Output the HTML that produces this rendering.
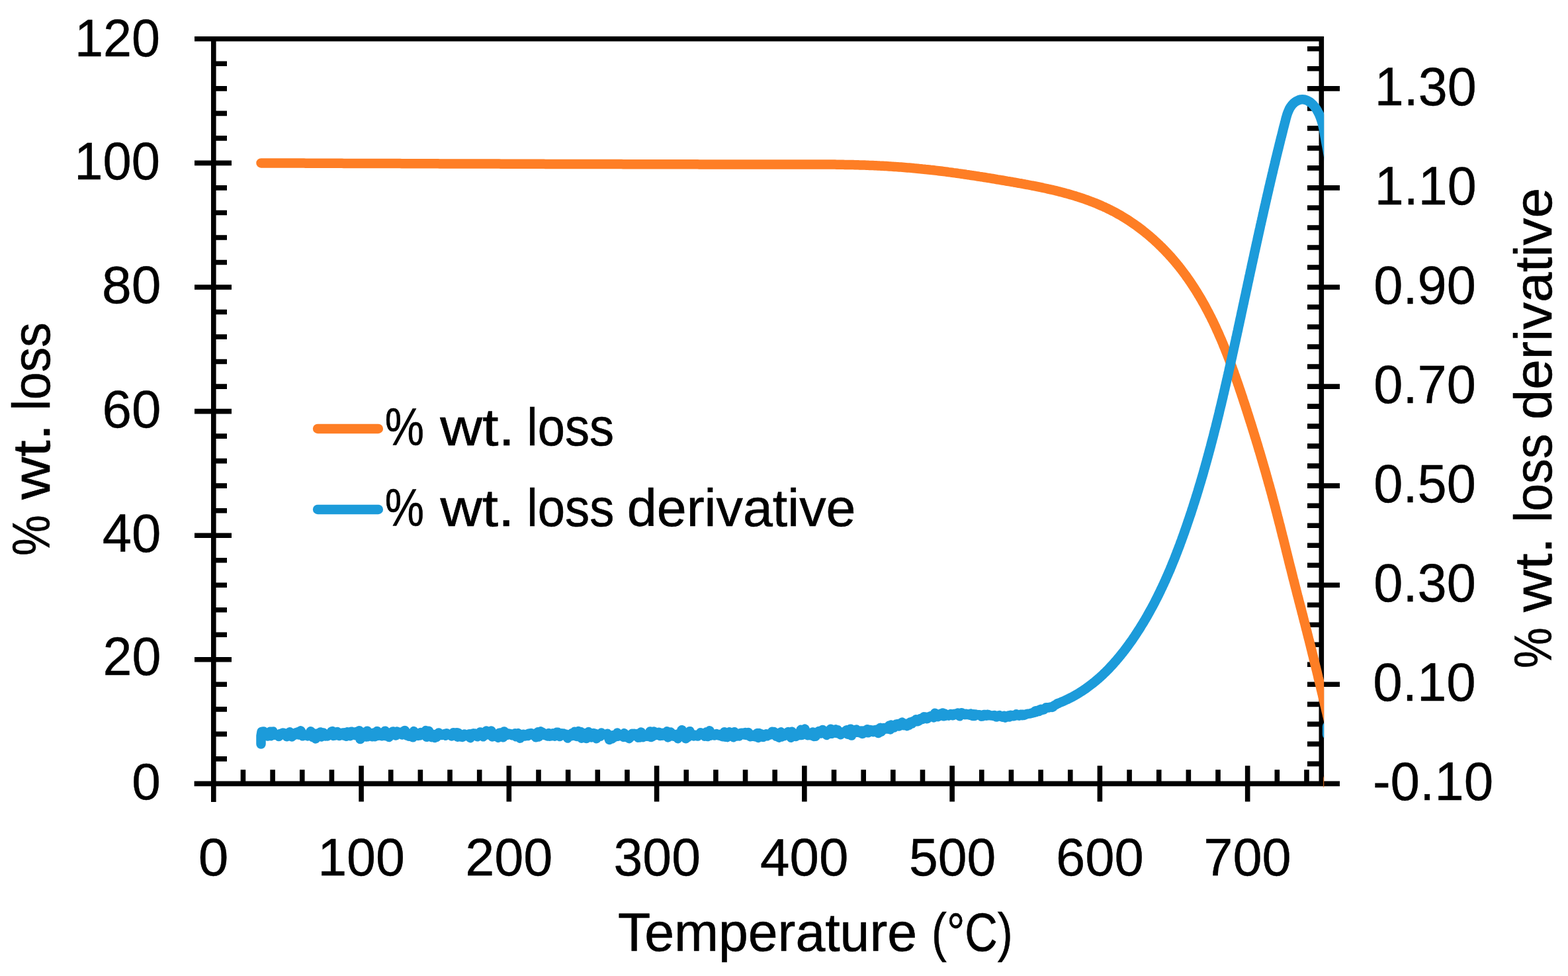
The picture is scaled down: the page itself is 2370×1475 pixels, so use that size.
<!DOCTYPE html>
<html><head><meta charset="utf-8"><title>TGA chart</title>
<style>html,body{margin:0;padding:0;background:#fff;}svg{display:block;}text{font-family:"Liberation Sans",Arial,sans-serif;}</style>
</head><body>
<svg width="2370" height="1475" viewBox="0 0 2370 1475">
<rect width="2370" height="1475" fill="#fff"/>
<path d="M294 58.8L2001.1 58.8M293.6 1184.4L2025 1184.4M322.8 55L322.8 1212M1997.3 55L1997.3 1188.2M294 1184.4L350 1184.4M322.8 1146.88L343 1146.88M322.8 1109.36L343 1109.36M322.8 1071.84L343 1071.84M322.8 1034.32L343 1034.32M294 996.8L350 996.8M322.8 959.28L343 959.28M322.8 921.76L343 921.76M322.8 884.24L343 884.24M322.8 846.72L343 846.72M294 809.2L350 809.2M322.8 771.68L343 771.68M322.8 734.16L343 734.16M322.8 696.64L343 696.64M322.8 659.12L343 659.12M294 621.6L350 621.6M322.8 584.08L343 584.08M322.8 546.56L343 546.56M322.8 509.04L343 509.04M322.8 471.52L343 471.52M294 434L350 434M322.8 396.48L343 396.48M322.8 358.96L343 358.96M322.8 321.44L343 321.44M322.8 283.92L343 283.92M294 246.4L350 246.4M322.8 208.88L343 208.88M322.8 171.36L343 171.36M322.8 133.84L343 133.84M322.8 96.32L343 96.32M294 58.8L350 58.8M1976 1184.4L2025 1184.4M1976 1154.38L1997.3 1154.38M1976 1124.37L1997.3 1124.37M1976 1094.35L1997.3 1094.35M1976 1064.34L1997.3 1064.34M1976 1034.32L2025 1034.32M1976 1004.3L1997.3 1004.3M1976 974.29L1997.3 974.29M1976 944.27L1997.3 944.27M1976 914.26L1997.3 914.26M1976 884.24L2025 884.24M1976 854.22L1997.3 854.22M1976 824.21L1997.3 824.21M1976 794.19L1997.3 794.19M1976 764.18L1997.3 764.18M1976 734.16L2025 734.16M1976 704.14L1997.3 704.14M1976 674.13L1997.3 674.13M1976 644.11L1997.3 644.11M1976 614.1L1997.3 614.1M1976 584.08L2025 584.08M1976 554.06L1997.3 554.06M1976 524.05L1997.3 524.05M1976 494.03L1997.3 494.03M1976 464.02L1997.3 464.02M1976 434L2025 434M1976 403.98L1997.3 403.98M1976 373.97L1997.3 373.97M1976 343.95L1997.3 343.95M1976 313.94L1997.3 313.94M1976 283.92L2025 283.92M1976 253.9L1997.3 253.9M1976 223.89L1997.3 223.89M1976 193.87L1997.3 193.87M1976 163.86L1997.3 163.86M1976 133.84L2025 133.84M1976 103.82L1997.3 103.82M1976 73.81L1997.3 73.81M322.8 1157.2L322.8 1211.6M367.45 1163.3L367.45 1184.4M412.11 1163.3L412.11 1184.4M456.76 1163.3L456.76 1184.4M501.41 1163.3L501.41 1184.4M546.07 1157.2L546.07 1211.6M590.72 1163.3L590.72 1184.4M635.37 1163.3L635.37 1184.4M680.03 1163.3L680.03 1184.4M724.68 1163.3L724.68 1184.4M769.33 1157.2L769.33 1211.6M813.99 1163.3L813.99 1184.4M858.64 1163.3L858.64 1184.4M903.29 1163.3L903.29 1184.4M947.95 1163.3L947.95 1184.4M992.6 1157.2L992.6 1211.6M1037.25 1163.3L1037.25 1184.4M1081.91 1163.3L1081.91 1184.4M1126.56 1163.3L1126.56 1184.4M1171.21 1163.3L1171.21 1184.4M1215.87 1157.2L1215.87 1211.6M1260.52 1163.3L1260.52 1184.4M1305.17 1163.3L1305.17 1184.4M1349.83 1163.3L1349.83 1184.4M1394.48 1163.3L1394.48 1184.4M1439.13 1157.2L1439.13 1211.6M1483.79 1163.3L1483.79 1184.4M1528.44 1163.3L1528.44 1184.4M1573.09 1163.3L1573.09 1184.4M1617.75 1163.3L1617.75 1184.4M1662.4 1157.2L1662.4 1211.6M1707.05 1163.3L1707.05 1184.4M1751.71 1163.3L1751.71 1184.4M1796.36 1163.3L1796.36 1184.4M1841.01 1163.3L1841.01 1184.4M1885.67 1157.2L1885.67 1211.6M1930.32 1163.3L1930.32 1184.4M1974.97 1163.3L1974.97 1184.4" stroke="#000" stroke-width="7.6" fill="none"/>
<clipPath id="pc"><rect x="280" y="40" width="1721.2" height="1150"/></clipPath>
<g clip-path="url(#pc)" fill="none" stroke-linecap="round" stroke-linejoin="round" stroke-width="14.5">
<path d="M394.5 246.4L397.0 246.4L399.5 246.4L402.0 246.5L404.5 246.5L407.0 246.5L409.5 246.5L412.0 246.5L414.5 246.5L417.0 246.5L419.5 246.5L422.0 246.5L424.5 246.5L427.0 246.5L429.5 246.5L432.0 246.6L434.5 246.6L437.0 246.6L439.5 246.6L442.0 246.6L444.5 246.6L447.0 246.6L449.5 246.6L452.0 246.6L454.5 246.6L457.0 246.6L459.5 246.6L462.0 246.7L464.5 246.7L467.0 246.7L469.5 246.7L472.0 246.7L474.5 246.7L477.0 246.7L479.5 246.7L482.0 246.7L484.5 246.7L487.0 246.7L489.5 246.7L492.0 246.8L494.5 246.8L497.0 246.8L499.5 246.8L502.0 246.8L504.5 246.8L507.0 246.8L509.5 246.8L512.0 246.8L514.5 246.8L517.0 246.8L519.5 246.9L522.0 246.9L524.5 246.9L527.0 246.9L529.5 246.9L532.0 246.9L534.5 246.9L537.0 246.9L539.5 246.9L542.0 246.9L544.5 246.9L547.0 246.9L549.5 247.0L552.0 247.0L554.5 247.0L557.0 247.0L559.5 247.0L562.0 247.0L564.5 247.0L567.0 247.0L569.5 247.0L572.0 247.0L574.5 247.0L577.0 247.1L579.5 247.1L582.0 247.1L584.5 247.1L587.0 247.1L589.5 247.1L592.0 247.1L594.5 247.1L597.0 247.1L599.5 247.1L602.0 247.1L604.5 247.1L607.0 247.2L609.5 247.2L612.0 247.2L614.5 247.2L617.0 247.2L619.5 247.2L622.0 247.2L624.5 247.2L627.0 247.2L629.5 247.2L632.0 247.2L634.5 247.3L637.0 247.3L639.5 247.3L642.0 247.3L644.5 247.3L647.0 247.3L649.5 247.3L652.0 247.3L654.5 247.3L657.0 247.3L659.5 247.3L662.0 247.3L664.5 247.4L667.0 247.4L669.5 247.4L672.0 247.4L674.5 247.4L677.0 247.4L679.5 247.4L682.0 247.4L684.5 247.4L687.0 247.4L689.5 247.4L692.0 247.4L694.5 247.5L697.0 247.5L699.5 247.5L702.0 247.5L704.5 247.5L707.0 247.5L709.5 247.5L712.0 247.5L714.5 247.5L717.0 247.5L719.5 247.5L722.0 247.5L724.5 247.6L727.0 247.6L729.5 247.6L732.0 247.6L734.5 247.6L737.0 247.6L739.5 247.6L742.0 247.6L744.5 247.6L747.0 247.6L749.5 247.6L752.0 247.6L754.5 247.6L757.0 247.7L759.5 247.7L762.0 247.7L764.5 247.7L767.0 247.7L769.5 247.7L772.0 247.7L774.5 247.7L777.0 247.7L779.5 247.7L782.0 247.7L784.5 247.7L787.0 247.7L789.4 247.8L791.9 247.8L794.4 247.8L796.9 247.8L799.4 247.8L801.9 247.8L804.4 247.8L806.9 247.8L809.4 247.8L811.9 247.8L814.4 247.8L816.9 247.8L819.4 247.8L821.9 247.8L824.4 247.9L826.9 247.9L829.4 247.9L831.9 247.9L834.4 247.9L836.9 247.9L839.4 247.9L841.9 247.9L844.4 247.9L846.9 247.9L849.4 247.9L851.9 247.9L854.4 247.9L856.9 247.9L859.4 248.0L861.9 248.0L864.4 248.0L866.9 248.0L869.4 248.0L871.9 248.0L874.4 248.0L876.9 248.0L879.4 248.0L881.9 248.0L884.4 248.0L886.9 248.0L889.4 248.0L891.9 248.0L894.4 248.0L896.9 248.0L899.4 248.1L901.9 248.1L904.4 248.1L906.9 248.1L909.4 248.1L911.9 248.1L914.4 248.1L916.9 248.1L919.4 248.1L921.9 248.1L924.4 248.1L926.9 248.1L929.4 248.1L931.9 248.1L934.4 248.1L936.9 248.1L939.4 248.1L941.9 248.2L944.4 248.2L946.9 248.2L949.4 248.2L951.9 248.2L954.4 248.2L956.9 248.2L959.4 248.2L961.9 248.2L964.4 248.2L966.9 248.2L969.4 248.2L971.9 248.2L974.4 248.2L976.9 248.2L979.4 248.2L981.9 248.2L984.4 248.2L986.9 248.2L989.4 248.2L991.9 248.3L994.4 248.3L996.9 248.3L999.4 248.3L1001.9 248.3L1004.4 248.3L1006.9 248.3L1009.4 248.3L1011.9 248.3L1014.4 248.3L1016.9 248.3L1019.4 248.3L1021.9 248.3L1024.4 248.3L1026.9 248.3L1029.4 248.3L1031.9 248.3L1034.4 248.3L1036.9 248.3L1039.4 248.3L1041.9 248.3L1044.4 248.3L1046.9 248.3L1049.4 248.3L1051.9 248.3L1054.4 248.3L1056.9 248.4L1059.4 248.4L1061.9 248.4L1064.4 248.4L1066.9 248.4L1069.4 248.4L1071.9 248.4L1074.4 248.4L1076.9 248.4L1079.4 248.4L1081.9 248.4L1084.4 248.4L1086.9 248.4L1089.4 248.4L1091.9 248.4L1094.4 248.4L1096.9 248.4L1099.4 248.4L1101.9 248.4L1104.4 248.4L1106.9 248.4L1109.4 248.4L1111.9 248.4L1114.4 248.4L1116.9 248.4L1119.4 248.4L1121.9 248.4L1124.4 248.4L1126.9 248.4L1129.4 248.4L1131.9 248.4L1134.4 248.4L1136.9 248.4L1139.4 248.4L1141.9 248.4L1144.4 248.4L1146.9 248.4L1149.4 248.4L1151.9 248.4L1154.4 248.4L1156.9 248.4L1159.4 248.4L1161.9 248.4L1164.4 248.4L1166.9 248.4L1169.4 248.4L1171.9 248.4L1174.4 248.4L1176.9 248.4L1179.4 248.4L1181.9 248.4L1184.4 248.4L1186.9 248.4L1189.4 248.4L1191.9 248.4L1194.4 248.4L1196.9 248.4L1199.4 248.4L1201.9 248.4L1204.4 248.4L1206.9 248.4L1209.4 248.4L1211.9 248.4L1214.4 248.4L1216.9 248.4L1219.4 248.4L1221.9 248.4L1224.5 248.4L1227.0 248.4L1229.5 248.5L1232.0 248.5L1234.5 248.5L1237.0 248.5L1239.5 248.5L1242.0 248.5L1244.5 248.5L1247.0 248.5L1249.5 248.5L1252.0 248.6L1254.5 248.6L1257.0 248.6L1259.5 248.6L1262.0 248.6L1264.5 248.7L1267.0 248.7L1269.5 248.7L1272.0 248.8L1274.5 248.8L1277.0 248.9L1279.5 248.9L1282.0 249.0L1284.5 249.0L1287.0 249.1L1289.5 249.1L1292.0 249.2L1294.5 249.2L1297.0 249.3L1299.5 249.4L1302.0 249.5L1304.5 249.5L1307.0 249.6L1309.5 249.7L1311.9 249.8L1314.4 249.9L1316.9 250.0L1319.4 250.1L1321.9 250.2L1324.4 250.3L1326.9 250.4L1329.4 250.6L1331.9 250.7L1334.4 250.8L1336.9 251.0L1339.4 251.1L1341.9 251.2L1344.4 251.4L1346.9 251.6L1349.4 251.7L1351.9 251.9L1354.4 252.1L1356.8 252.2L1359.3 252.4L1361.8 252.6L1364.3 252.8L1366.8 253.0L1369.3 253.2L1371.8 253.4L1374.3 253.6L1376.8 253.8L1379.2 254.0L1381.7 254.3L1384.2 254.5L1386.7 254.7L1389.2 255.0L1391.7 255.2L1394.1 255.5L1396.6 255.7L1399.1 256.0L1401.6 256.2L1404.1 256.5L1406.5 256.8L1409.0 257.0L1411.5 257.3L1414.0 257.6L1416.4 257.9L1418.9 258.2L1421.4 258.5L1423.9 258.8L1426.3 259.1L1428.8 259.4L1431.3 259.7L1433.7 260.1L1436.2 260.4L1438.7 260.7L1441.1 261.1L1443.6 261.4L1446.1 261.7L1448.5 262.1L1451.0 262.4L1453.5 262.8L1455.9 263.1L1458.4 263.5L1460.9 263.9L1463.3 264.2L1465.8 264.6L1468.3 265.0L1470.7 265.3L1473.2 265.7L1475.7 266.1L1478.2 266.5L1480.6 266.9L1483.1 267.2L1485.6 267.6L1488.0 268.0L1490.5 268.4L1493.0 268.8L1495.4 269.2L1497.9 269.6L1500.4 270.0L1502.8 270.4L1505.3 270.8L1507.8 271.3L1510.3 271.7L1512.7 272.1L1515.2 272.5L1517.7 272.9L1520.1 273.3L1522.6 273.8L1525.1 274.2L1527.6 274.6L1530.1 275.0L1532.5 275.5L1535.0 275.9L1537.5 276.3L1540.0 276.8L1542.4 277.2L1544.9 277.7L1547.4 278.1L1549.9 278.6L1552.3 279.0L1554.8 279.5L1557.3 280.0L1559.8 280.5L1562.2 280.9L1564.7 281.4L1567.2 281.9L1569.6 282.4L1572.1 282.9L1574.6 283.4L1577.0 284.0L1579.5 284.5L1581.9 285.0L1584.4 285.6L1586.8 286.1L1589.3 286.7L1591.7 287.2L1594.1 287.8L1596.6 288.4L1599.0 289.0L1601.4 289.6L1603.9 290.2L1606.3 290.9L1608.7 291.5L1611.1 292.2L1613.5 292.8L1615.9 293.5L1618.3 294.2L1620.7 294.9L1623.1 295.6L1625.5 296.3L1627.8 297.1L1630.2 297.8L1632.6 298.6L1634.9 299.4L1637.3 300.2L1639.6 301.0L1642.0 301.8L1644.3 302.7L1646.6 303.5L1648.9 304.4L1651.3 305.3L1653.6 306.2L1655.9 307.1L1658.1 308.0L1660.4 309.0L1662.7 310.0L1665.0 311.0L1667.2 312.0L1669.5 313.0L1671.7 314.0L1674.0 315.1L1676.2 316.2L1678.4 317.3L1680.6 318.4L1682.8 319.5L1685.0 320.7L1687.2 321.9L1689.3 323.1L1691.5 324.3L1693.7 325.6L1695.8 326.8L1697.9 328.1L1700.0 329.4L1702.2 330.7L1704.3 332.0L1706.4 333.4L1708.4 334.8L1710.5 336.2L1712.6 337.6L1714.6 339.0L1716.6 340.4L1718.7 341.9L1720.7 343.4L1722.7 344.9L1724.7 346.4L1726.7 347.9L1728.6 349.5L1730.6 351.0L1732.5 352.6L1734.5 354.2L1736.4 355.8L1738.3 357.4L1740.2 359.1L1742.1 360.7L1744.0 362.4L1745.8 364.1L1747.7 365.8L1749.5 367.5L1751.3 369.2L1753.1 371.0L1754.9 372.7L1756.7 374.5L1758.5 376.3L1760.2 378.1L1762.0 379.9L1763.7 381.7L1765.4 383.5L1767.1 385.4L1768.8 387.3L1770.5 389.1L1772.1 391.0L1773.8 392.9L1775.4 394.8L1777.0 396.7L1778.6 398.7L1780.2 400.6L1781.8 402.5L1783.3 404.5L1784.9 406.5L1786.4 408.5L1787.9 410.5L1789.4 412.5L1790.9 414.5L1792.4 416.5L1793.8 418.5L1795.3 420.6L1796.7 422.6L1798.1 424.7L1799.5 426.7L1800.9 428.8L1802.3 430.9L1803.7 433.0L1805.0 435.1L1806.4 437.2L1807.7 439.3L1809.0 441.4L1810.3 443.5L1811.6 445.7L1812.9 447.8L1814.2 450.0L1815.5 452.1L1816.7 454.3L1817.9 456.5L1819.2 458.6L1820.4 460.8L1821.6 463.0L1822.8 465.2L1823.9 467.4L1825.1 469.6L1826.3 471.8L1827.4 474.0L1828.5 476.2L1829.7 478.4L1830.8 480.7L1831.9 482.9L1833.0 485.1L1834.1 487.4L1835.1 489.6L1836.2 491.9L1837.3 494.1L1838.3 496.4L1839.3 498.7L1840.4 500.9L1841.4 503.2L1842.4 505.5L1843.4 507.8L1844.4 510.1L1845.4 512.4L1846.4 514.6L1847.3 516.9L1848.3 519.2L1849.2 521.5L1850.2 523.9L1851.1 526.2L1852.1 528.5L1853.0 530.8L1853.9 533.1L1854.8 535.4L1855.7 537.8L1856.6 540.1L1857.5 542.4L1858.4 544.8L1859.3 547.1L1860.2 549.4L1861.0 551.8L1861.9 554.1L1862.7 556.5L1863.6 558.8L1864.5 561.2L1865.3 563.5L1866.1 565.9L1867.0 568.2L1867.8 570.6L1868.6 573.0L1869.4 575.3L1870.3 577.7L1871.1 580.1L1871.9 582.4L1872.7 584.8L1873.5 587.2L1874.3 589.5L1875.1 591.9L1875.9 594.3L1876.7 596.7L1877.5 599.0L1878.3 601.4L1879.0 603.8L1879.8 606.2L1880.6 608.5L1881.4 610.9L1882.2 613.3L1882.9 615.7L1883.7 618.0L1884.5 620.4L1885.2 622.8L1886.0 625.2L1886.8 627.6L1887.5 630.0L1888.3 632.3L1889.0 634.7L1889.8 637.1L1890.6 639.5L1891.3 641.9L1892.1 644.3L1892.8 646.6L1893.5 649.0L1894.3 651.4L1895.0 653.8L1895.8 656.2L1896.5 658.6L1897.2 661.0L1898.0 663.4L1898.7 665.7L1899.4 668.1L1900.2 670.5L1900.9 672.9L1901.6 675.3L1902.3 677.7L1903.0 680.1L1903.8 682.5L1904.5 684.9L1905.2 687.3L1905.9 689.7L1906.6 692.1L1907.3 694.5L1908.0 696.9L1908.7 699.3L1909.4 701.7L1910.1 704.1L1910.8 706.5L1911.5 708.9L1912.2 711.3L1912.9 713.7L1913.6 716.1L1914.2 718.5L1914.9 720.9L1915.6 723.3L1916.3 725.7L1916.9 728.1L1917.6 730.5L1918.3 732.9L1919.0 735.3L1919.6 737.7L1920.3 740.1L1921.0 742.5L1921.6 744.9L1922.3 747.3L1922.9 749.7L1923.6 752.2L1924.2 754.6L1924.9 757.0L1925.5 759.4L1926.2 761.8L1926.8 764.2L1927.5 766.6L1928.1 769.0L1928.7 771.5L1929.4 773.9L1930.0 776.3L1930.6 778.7L1931.2 781.1L1931.9 783.5L1932.5 786.0L1933.1 788.4L1933.7 790.8L1934.4 793.2L1935.0 795.6L1935.6 798.1L1936.2 800.5L1936.8 802.9L1937.4 805.3L1938.0 807.8L1938.6 810.2L1939.3 812.6L1939.9 815.0L1940.5 817.4L1941.1 819.9L1941.7 822.3L1942.3 824.7L1942.9 827.1L1943.5 829.6L1944.1 832.0L1944.7 834.4L1945.3 836.8L1945.9 839.3L1946.5 841.7L1947.1 844.1L1947.7 846.5L1948.3 849.0L1948.9 851.4L1949.5 853.8L1950.1 856.2L1950.8 858.7L1951.4 861.1L1952.0 863.5L1952.6 865.9L1953.2 868.3L1953.8 870.8L1954.4 873.2L1955.0 875.6L1955.7 878.0L1956.3 880.5L1956.9 882.9L1957.5 885.3L1958.1 887.7L1958.8 890.1L1959.4 892.6L1960.0 895.0L1960.6 897.4L1961.2 899.8L1961.9 902.2L1962.5 904.6L1963.1 907.1L1963.7 909.5L1964.4 911.9L1965.0 914.3L1965.6 916.7L1966.3 919.2L1966.9 921.6L1967.5 924.0L1968.1 926.4L1968.8 928.8L1969.4 931.3L1970.0 933.7L1970.6 936.1L1971.2 938.5L1971.9 940.9L1972.5 943.4L1973.1 945.8L1973.7 948.2L1974.3 950.6L1975.0 953.0L1975.6 955.5L1976.2 957.9L1976.8 960.3L1977.4 962.7L1978.0 965.1L1978.7 967.6L1979.3 970.0L1979.9 972.4L1980.5 974.8L1981.1 977.3L1981.7 979.7L1982.3 982.1L1982.9 984.5L1983.5 987.0L1984.1 989.4L1984.7 991.8L1985.3 994.2L1985.9 996.7L1986.5 999.1L1987.1 1001.5L1987.7 1003.9L1988.3 1006.4L1988.9 1008.8L1989.5 1011.2L1990.1 1013.6L1990.7 1016.1L1991.3 1018.5L1991.9 1020.9L1992.4 1023.4L1993.0 1025.8L1993.6 1028.2L1994.2 1030.6L1994.8 1033.1L1995.4 1035.5L1996.0 1037.9L1996.5 1040.4L1997.1 1042.8L1997.7 1045.2L1998.3 1047.7L1998.9 1050.1L1999.4 1052.5L2000.0 1055.0L2000.6 1057.4L2001.2 1059.8L2001.8 1062.3L2002.3 1064.7L2002.9 1067.1L2003.5 1069.5L2004.1 1072.0L2004.6 1074.4L2005.2 1076.8L2005.8 1079.3L2006.3 1081.7L2006.9 1084.1L2007.5 1086.6L2008.1 1089.0L2008.6 1091.5L2009.2 1093.9L2009.8 1096.3L2010.3 1098.8L2010.9 1101.2L2011.5 1103.6L2012.0 1106.1L2012.6 1108.5L2013.1 1110.9L2013.7 1113.4L2014.3 1115.8L2014.8 1118.2L2015.4 1120.7L2016.0 1123.1L2016.5 1125.5L2017.1 1128.0L2017.6 1130.4L2018.2 1132.9L2018.8 1135.3L2019.3 1137.7L2019.9 1140.2L2020.4 1142.6L2021.0 1145.0L2021.5 1147.5L2022.1 1149.9L2022.6 1152.4L2023.2 1154.8L2023.8 1157.2L2024.3 1159.7L2024.9 1162.1L2025.4 1164.5L2026.0 1167.0L2026.5 1169.4L2027.1 1171.9L2027.6 1174.3L2028.2 1176.7L2028.7 1179.2L2029.3 1181.6L2029.8 1184.0" stroke="#FE7E25"/>
<path d="M394.5 1124.5L394.5 1112L395.5 1106L398.5 1105.5L399 1109.36L400.5 1111.27L402 1107.67L403.5 1109.45L405 1112.58L406.5 1110.6L408 1105.81L409.5 1112.11L411 1105.74L412.5 1105.61L414 1110.73L415.5 1109.85L417 1110.73L418.5 1110.94L420 1111.34L421.5 1112.94L423 1109.08L424.5 1109.67L426 1108.82L427.5 1107.54L429 1107.91L430.5 1110.54L432 1110.04L433.5 1113.19L435 1109.65L436.5 1107.87L438 1106.25L439.5 1111.98L441 1113.5L442.5 1110.81L444 1111.44L445.5 1108.36L447 1107.47L448.5 1108.56L450 1106.24L451.5 1110.48L453 1105.13L454.5 1104.37L456 1107.07L457.5 1112.31L459 1110.48L460.5 1110.95L462 1111.15L463.5 1111.22L465 1112.24L466.5 1111.17L468 1111.95L469.5 1105.31L471 1106.56L472.5 1113.86L474 1110.64L475.5 1111.45L477 1116.43L478.5 1108.78L480 1109.27L481.5 1110.99L483 1107.5L484.5 1106.41L486 1113.41L487.5 1108.67L489 1107.54L490.5 1111.56L492 1112.47L493.5 1109.53L495 1112.37L496.5 1111.72L498 1109.05L499.5 1109.15L501 1105.63L502.5 1105.1L504 1111.93L505.5 1111.68L507 1109.23L508.5 1111.04L510 1105.95L511.5 1110.26L513 1112L514.5 1109.03L516 1109.84L517.5 1107.63L519 1111.43L520.5 1107.23L522 1110.25L523.5 1112.79L525 1106.38L526.5 1106.83L528 1109.88L529.5 1112.23L531 1105.65L532.5 1109.88L534 1108.08L535.5 1109.97L537 1111.13L538.5 1105.95L540 1110.7L541.5 1110.24L543 1104.17L544.5 1117.07L546 1112.83L547.5 1111.53L549 1109.66L550.5 1106.81L552 1107.43L553.5 1113.55L555 1104.72L556.5 1113.16L558 1110.64L559.5 1110.66L561 1112.47L562.5 1113.35L564 1107.77L565.5 1112.17L567 1113.18L568.5 1108.96L570 1104.98L571.5 1111.66L573 1109.58L574.5 1111.68L576 1109.45L577.5 1112.2L579 1107.91L580.5 1111.79L582 1104.68L583.5 1112.25L585 1109.1L586.5 1109.5L588 1114.05L589.5 1109.68L591 1109.07L592.5 1106.41L594 1105.44L595.5 1108.06L597 1109.57L598.5 1111.56L600 1105.64L601.5 1107.94L603 1107.28L604.5 1107.61L606 1106.58L607.5 1110.44L609 1107.92L610.5 1104.67L612 1104.02L613.5 1107.33L615 1111.46L616.5 1111.38L618 1112.84L619.5 1111.15L621 1111.75L622.5 1112.78L624 1114.37L625.5 1105.13L627 1107.21L628.5 1111.26L630 1110.94L631.5 1111.8L633 1110.28L634.5 1111.62L636 1107.02L637.5 1108.67L639 1107.44L640.5 1107.48L642 1111.18L643.5 1104.09L645 1113.81L646.5 1110.68L648 1104.75L649.5 1112.2L651 1112.94L652.5 1114.15L654 1110.36L655.5 1110.1L657 1114.95L658.5 1112.25L660 1113.92L661.5 1112.14L663 1107.49L664.5 1110.33L666 1109.54L667.5 1111L669 1110.84L670.5 1110.64L672 1108.9L673.5 1111.69L675 1108.16L676.5 1109.73L678 1109.73L679.5 1110.18L681 1110.8L682.5 1112.38L684 1110.87L685.5 1107.35L687 1107.44L688.5 1111.62L690 1107.18L691.5 1113.73L693 1107.88L694.5 1111.1L696 1113.51L697.5 1111.58L699 1113.95L700.5 1112.25L702 1109.46L703.5 1111.66L705 1111.33L706.5 1112.12L708 1112.95L709.5 1109.32L711 1115.12L712.5 1112.06L714 1108.82L715.5 1108.31L717 1110.46L718.5 1108.62L720 1108.82L721.5 1113.26L723 1110.79L724.5 1108.76L726 1106.43L727.5 1107.51L729 1109.2L730.5 1113.33L732 1109.29L733.5 1107.03L735 1104.48L736.5 1109.78L738 1110.15L739.5 1109.56L741 1108.47L742.5 1104.49L744 1113.43L745.5 1110.93L747 1109.24L748.5 1110.26L750 1110.09L751.5 1111.98L753 1114.9L754.5 1107.84L756 1109.97L757.5 1107.22L759 1110.46L760.5 1114.24L762 1105.39L763.5 1111.27L765 1109.9L766.5 1110.84L768 1108.27L769.5 1108.78L771 1109.14L772.5 1109.19L774 1111.24L775.5 1109.93L777 1109.6L778.5 1108.15L780 1113.29L781.5 1110.01L783 1108.11L784.5 1110.51L786 1115.66L787.5 1109.9L789 1111.07L790.5 1109.77L792 1110.01L793.5 1112.55L795 1109.97L796.5 1111.41L798 1111.99L799.5 1108.46L801 1109.16L802.5 1107.91L804 1109.33L805.5 1111.13L807 1108.92L808.5 1112.4L810 1114.35L811.5 1110.57L813 1106.38L814.5 1113.49L816 1110.46L817.5 1105.39L819 1108.43L820.5 1107.28L822 1108.3L823.5 1111.16L825 1109.77L826.5 1110.59L828 1112.59L829.5 1108.1L831 1112.69L832.5 1109.31L834 1112.32L835.5 1108.25L837 1111.6L838.5 1112.65L840 1110.12L841.5 1106.76L843 1106.7L844.5 1110.79L846 1113.03L847.5 1111.75L849 1108.26L850.5 1111.08L852 1108.64L853.5 1109.88L855 1109.43L856.5 1112.62L858 1115.47L859.5 1111.09L861 1110.96L862.5 1112.39L864 1108.37L865.5 1109.42L867 1111.71L868.5 1105.79L870 1107.8L871.5 1112.9L873 1113.09L874.5 1105.02L876 1110.92L877.5 1106.04L879 1115.71L880.5 1113.11L882 1107.88L883.5 1111.11L885 1114.43L886.5 1116.03L888 1109.12L889.5 1105.98L891 1110.62L892.5 1110.48L894 1114.47L895.5 1111.55L897 1107.99L898.5 1110.16L900 1108.78L901.5 1116.15L903 1110.69L904.5 1110.55L906 1110.28L907.5 1112.82L909 1107.58L910.5 1110.18L912 1110.2L913.5 1110.03L915 1110.1L916.5 1109.9L918 1108.73L919.5 1112.86L921 1117.96L922.5 1112.66L924 1112.59L925.5 1116.26L927 1110.98L928.5 1112.53L930 1113.58L931.5 1109.92L933 1107.59L934.5 1112.65L936 1109.46L937.5 1111.9L939 1111.66L940.5 1111.12L942 1113.87L943.5 1108.14L945 1110.09L946.5 1112.27L948 1114.49L949.5 1111.61L951 1116.13L952.5 1112.22L954 1113.31L955.5 1108.79L957 1111.17L958.5 1108.79L960 1110.47L961.5 1109.35L963 1109.13L964.5 1114.61L966 1111L967.5 1114.47L969 1106.58L970.5 1111.99L972 1114.13L973.5 1112.3L975 1111.72L976.5 1110.78L978 1112.85L979.5 1110.02L981 1113.04L982.5 1105.46L984 1114.06L985.5 1113.42L987 1112.31L988.5 1105.58L990 1110.6L991.5 1110.93L993 1110.41L994.5 1109.57L996 1106.66L997.5 1111.96L999 1109.74L1000.5 1111.81L1002 1107.76L1003.5 1111.23L1005 1111.62L1006.5 1111.45L1008 1105.34L1009.5 1114.39L1011 1112.7L1012.5 1112.88L1014 1106.63L1015.5 1109.77L1017 1110.25L1018.5 1112.74L1020 1110.61L1021.5 1113.46L1023 1109.71L1024.5 1116.12L1026 1110.74L1027.5 1112.63L1029 1113L1030.5 1103.22L1032 1111.35L1033.5 1110.36L1035 1113.21L1036.5 1116.21L1038 1107.22L1039.5 1114.3L1041 1111.74L1042.5 1105.18L1044 1109.4L1045.5 1109.47L1047 1111.21L1048.5 1112.49L1050 1110.76L1051.5 1111L1053 1111.49L1054.5 1112.61L1056 1109.75L1057.5 1110.34L1059 1107.21L1060.5 1109.49L1062 1109.73L1063.5 1108.16L1065 1112.65L1066.5 1109.94L1068 1106.24L1069.5 1113.06L1071 1111.86L1072.5 1104.27L1074 1111.63L1075.5 1108.22L1077 1110.74L1078.5 1110.88L1080 1111.42L1081.5 1109.91L1083 1109.07L1084.5 1110.41L1086 1111.5L1087.5 1109.87L1089 1112.01L1090.5 1110.02L1092 1113.18L1093.5 1109.88L1095 1106.17L1096.5 1113.79L1098 1112.6L1099.5 1113.95L1101 1112.89L1102.5 1106.33L1104 1107.73L1105.5 1111.93L1107 1110.2L1108.5 1114.12L1110 1106.2L1111.5 1108.46L1113 1112.54L1114.5 1112.3L1116 1109.1L1117.5 1112.43L1119 1108.48L1120.5 1107.65L1122 1107.79L1123.5 1107.92L1125 1110.39L1126.5 1107.13L1128 1110.85L1129.5 1110.62L1131 1107L1132.5 1110.83L1134 1113.28L1135.5 1111.73L1137 1112.49L1138.5 1110.67L1140 1112.89L1141.5 1113.36L1143 1110.27L1144.5 1108.09L1146 1114.93L1147.5 1108.05L1149 1110.36L1150.5 1109.12L1152 1112.37L1153.5 1113.94L1155 1111.27L1156.5 1111.74L1158 1109.16L1159.5 1112.34L1161 1109.97L1162.5 1110.69L1164 1110.52L1165.5 1108.36L1167 1105.78L1168.5 1108.57L1170 1106.13L1171.5 1108.09L1173 1112.71L1174.5 1109.01L1176 1108.44L1177.5 1114.62L1179 1109.35L1180.5 1106.39L1182 1113.47L1183.5 1110.42L1185 1112.32L1186.5 1108.66L1188 1109.6L1189.5 1108.92L1191 1106.14L1192.5 1110.07L1194 1109.31L1195.5 1114.67L1197 1105.66L1198.5 1108.23L1200 1110.24L1201.5 1110.38L1203 1113.05L1204.5 1108.93L1206 1109.78L1207.5 1109L1209 1110.88L1210.5 1102.88L1212 1110.96L1213.5 1106.2L1215 1105.37L1216.5 1101.63L1218 1106.66L1219.5 1109.17L1221 1111.26L1222.5 1108.32L1224 1109.1L1225.5 1111.24L1227 1108.56L1228.5 1106.49L1230 1112.88L1231.5 1109.41L1233 1112.62L1234.5 1107.96L1236 1107.58L1237.5 1104.95L1239 1107.73L1240.5 1108.31L1242 1105.94L1243.5 1102.99L1245 1104.97L1246.5 1106.57L1248 1107.08L1249.5 1110.95L1251 1107.66L1252.5 1107.01L1254 1107.04L1255.5 1101.73L1257 1108.82L1258.5 1105.63L1260 1104.5L1261.5 1104.27L1263 1102.34L1264.5 1107.91L1266 1103.26L1267.5 1108.47L1269 1107.71L1270.5 1110.24L1272 1107.17L1273.5 1107.23L1275 1105.96L1276.5 1107.84L1278 1105.41L1279.5 1103.3L1281 1109.64L1282.5 1107.88L1284 1108.73L1285.5 1101.69L1287 1111.59L1288.5 1103.31L1290 1106.86L1291.5 1106.74L1293 1103.09L1294.5 1102.56L1296 1106.81L1297.5 1106.4L1299 1104.48L1300.5 1107.81L1302 1104.48L1303.5 1108.96L1305 1107.81L1306.5 1104.17L1308 1107.13L1309.5 1104.99L1311 1102.21L1312.5 1107.27L1314 1104.72L1315.5 1103.11L1317 1105.32L1318.5 1103.6L1320 1106.14L1321.5 1103.35L1323 1104.2L1324.5 1105.43L1326 1102.46L1327.5 1108.1L1329 1101.68L1330.5 1099.85L1332 1105.64L1333.5 1103.95L1335 1100.33L1336.5 1099.94L1338 1101.8L1339.5 1100.15L1341 1100.85L1342.5 1101.66L1344 1096.49L1345.5 1102.38L1347 1095.55L1348.5 1097.98L1350 1097.25L1351.5 1099.48L1353 1095.86L1354.5 1094.42L1356 1097.34L1357.5 1093.97L1359 1097.37L1360.5 1094.94L1362 1094.46L1363.5 1091.59L1365 1094.9L1366.5 1096.26L1368 1093.56L1369.5 1094.8L1371 1097.17L1372.5 1095.7L1374 1095.68L1375.5 1091.56L1377 1092.32L1378.5 1093.48L1380 1090.18L1381.5 1090.4L1383 1088.9L1384.5 1087.21L1386 1090.27L1387.5 1090.17L1389 1089.4L1390.5 1086.38L1392 1085.84L1393.5 1087.13L1395 1086.59L1396.5 1083.24L1398 1084.32L1399.5 1083.71L1401 1086.2L1402.5 1085.43L1404 1083.24L1405.5 1082.84L1407 1082.2L1408.5 1081.91L1410 1083.63L1411.5 1084.43L1413 1077.77L1414.5 1081.91L1416 1082.71L1417.5 1083.19L1419 1082.34L1420.5 1081.84L1422 1078.49L1423.5 1080.37L1425 1077.45L1426.5 1082.25L1428 1078.4L1429.5 1081.73L1431 1079.86L1432.5 1080.45L1434 1081.44L1435.5 1080.04L1437 1079.21L1438.5 1080.62L1440 1081.22L1441.5 1079.03L1443 1078.84L1444.5 1080.03L1446 1080.06L1447.5 1077.64L1449 1079.73L1450.5 1082.34L1452 1080.06L1453.5 1077.15L1455 1078.69L1456.5 1079.19L1458 1080.01L1459.5 1078.8L1461 1078.97L1462.5 1080.06L1464 1079.65L1465.5 1080.73L1467 1078.57L1468.5 1080.76L1470 1082.09L1471.5 1079.35L1473 1081.89L1474.5 1079.42L1476 1080.41L1477.5 1080.48L1479 1080.28L1480.5 1080.16L1482 1081.06L1483.5 1082.64L1485 1082.46L1486.5 1080.19L1488 1079.95L1489.5 1080.28L1491 1081.78L1492.5 1079.78L1494 1080.09L1495.5 1081.32L1497 1081.04L1498.5 1081.52L1500 1081.53L1501.5 1081.91L1503 1081.02L1504.5 1082.1L1506 1083.62L1507.5 1082.26L1509 1081.54L1510.5 1081.11L1512 1082.71L1513.5 1082.43L1515 1083.59L1516.5 1082.84L1518 1081.7L1519.5 1084.65L1521 1082.82L1522.5 1082.42L1524 1081.62L1525.5 1083.54L1527 1080.88L1528.5 1081.81L1530 1081.05L1531.5 1082.21L1533 1081.99L1534.5 1080.83L1536 1079.34L1537.5 1081.16L1539 1080.8L1540.5 1081.56L1542 1079.99L1543.5 1079.75L1545 1081.31L1546.5 1079.85L1548 1080.83L1549.5 1080.24L1551 1079.37L1552.5 1078.85L1554 1078.85L1555.5 1078.43L1557 1078.42L1558.5 1077.67L1560 1077.67L1561.5 1076.8L1563 1076.91L1564.5 1074.51L1566 1076.24L1567.5 1073.98L1569 1074.41L1570.5 1074.91L1572 1072.57L1573.5 1071.81L1575 1073.04L1576.5 1072.27L1578 1072.39L1579.5 1070.78L1581 1069.21L1582.5 1069.22L1584 1069.39L1585.5 1069.38L1587 1068.77L1588.5 1068.31L1590 1068.97L1591.5 1068.24L1593 1066.31L1594.5 1065.64L1596 1064.82L1597.5 1063.71L1599 1063.19" stroke="#1C9BDA"/>
<path d="M1598.7 1063.2L1601.1 1062.2L1603.5 1061.3L1605.9 1060.3L1608.2 1059.3L1610.5 1058.2L1612.8 1057.2L1615.1 1056.0L1617.4 1054.9L1619.6 1053.8L1621.8 1052.6L1624.0 1051.4L1626.2 1050.1L1628.4 1048.9L1630.5 1047.6L1632.7 1046.2L1634.8 1044.9L1636.9 1043.5L1638.9 1042.1L1641.0 1040.7L1643.0 1039.3L1645.0 1037.8L1647.0 1036.3L1649.0 1034.8L1651.0 1033.3L1652.9 1031.8L1654.8 1030.2L1656.7 1028.6L1658.6 1027.0L1660.5 1025.4L1662.3 1023.7L1664.2 1022.1L1666.0 1020.4L1667.8 1018.7L1669.6 1016.9L1671.4 1015.2L1673.1 1013.4L1674.9 1011.7L1676.6 1009.9L1678.3 1008.1L1680.0 1006.3L1681.7 1004.4L1683.4 1002.6L1685.0 1000.7L1686.7 998.8L1688.3 996.9L1689.9 995.0L1691.5 993.1L1693.1 991.2L1694.6 989.3L1696.2 987.3L1697.7 985.3L1699.3 983.4L1700.8 981.4L1702.3 979.4L1703.8 977.4L1705.3 975.4L1706.7 973.4L1708.2 971.3L1709.6 969.3L1711.1 967.3L1712.5 965.2L1713.9 963.1L1715.3 961.1L1716.7 959.0L1718.0 956.9L1719.4 954.8L1720.7 952.8L1722.1 950.7L1723.4 948.6L1724.7 946.4L1726.0 944.3L1727.3 942.2L1728.6 940.1L1729.9 937.9L1731.2 935.8L1732.4 933.6L1733.7 931.5L1734.9 929.3L1736.1 927.2L1737.3 925.0L1738.5 922.8L1739.7 920.6L1740.9 918.5L1742.1 916.3L1743.3 914.1L1744.4 911.9L1745.6 909.7L1746.7 907.4L1747.8 905.2L1749.0 903.0L1750.1 900.8L1751.2 898.5L1752.3 896.3L1753.4 894.1L1754.4 891.8L1755.5 889.6L1756.6 887.3L1757.6 885.1L1758.7 882.8L1759.7 880.5L1760.8 878.3L1761.8 876.0L1762.8 873.7L1763.8 871.4L1764.8 869.1L1765.8 866.8L1766.8 864.6L1767.8 862.3L1768.8 860.0L1769.7 857.7L1770.7 855.4L1771.6 853.0L1772.6 850.7L1773.5 848.4L1774.5 846.1L1775.4 843.8L1776.3 841.5L1777.2 839.1L1778.1 836.8L1779.0 834.5L1779.9 832.1L1780.8 829.8L1781.7 827.5L1782.6 825.1L1783.5 822.8L1784.3 820.4L1785.2 818.1L1786.1 815.7L1786.9 813.4L1787.8 811.0L1788.6 808.7L1789.5 806.3L1790.3 804.0L1791.1 801.6L1791.9 799.3L1792.8 796.9L1793.6 794.5L1794.4 792.2L1795.2 789.8L1796.0 787.4L1796.8 785.1L1797.6 782.7L1798.4 780.3L1799.2 778.0L1800.0 775.6L1800.8 773.2L1801.5 770.9L1802.3 768.5L1803.1 766.1L1803.8 763.7L1804.6 761.3L1805.4 759.0L1806.1 756.6L1806.9 754.2L1807.6 751.8L1808.4 749.4L1809.1 747.1L1809.8 744.7L1810.6 742.3L1811.3 739.9L1812.0 737.5L1812.7 735.1L1813.4 732.7L1814.2 730.3L1814.9 727.9L1815.6 725.5L1816.3 723.2L1817.0 720.8L1817.7 718.4L1818.4 716.0L1819.1 713.6L1819.7 711.2L1820.4 708.8L1821.1 706.4L1821.8 704.0L1822.4 701.6L1823.1 699.2L1823.8 696.8L1824.5 694.3L1825.1 691.9L1825.8 689.5L1826.4 687.1L1827.1 684.7L1827.7 682.3L1828.4 679.9L1829.0 677.5L1829.7 675.1L1830.3 672.7L1830.9 670.3L1831.6 667.8L1832.2 665.4L1832.8 663.0L1833.5 660.6L1834.1 658.2L1834.7 655.8L1835.3 653.3L1835.9 650.9L1836.5 648.5L1837.2 646.1L1837.8 643.7L1838.4 641.2L1839.0 638.8L1839.6 636.4L1840.2 634.0L1840.8 631.6L1841.4 629.1L1842.0 626.7L1842.6 624.3L1843.1 621.9L1843.7 619.4L1844.3 617.0L1844.9 614.6L1845.5 612.2L1846.1 609.7L1846.6 607.3L1847.2 604.9L1847.8 602.5L1848.4 600.0L1848.9 597.6L1849.5 595.2L1850.1 592.7L1850.6 590.3L1851.2 587.9L1851.7 585.5L1852.3 583.0L1852.9 580.6L1853.4 578.2L1854.0 575.7L1854.5 573.3L1855.1 570.9L1855.6 568.4L1856.2 566.0L1856.7 563.6L1857.3 561.1L1857.8 558.7L1858.4 556.3L1858.9 553.8L1859.5 551.4L1860.0 549.0L1860.5 546.5L1861.1 544.1L1861.6 541.7L1862.2 539.2L1862.7 536.8L1863.2 534.4L1863.8 531.9L1864.3 529.5L1864.8 527.1L1865.4 524.6L1865.9 522.2L1866.4 519.8L1867.0 517.3L1867.5 514.9L1868.0 512.5L1868.5 510.0L1869.1 507.6L1869.6 505.2L1870.1 502.7L1870.7 500.3L1871.2 497.9L1871.7 495.4L1872.2 493.0L1872.8 490.6L1873.3 488.1L1873.8 485.7L1874.3 483.3L1874.9 480.8L1875.4 478.4L1875.9 476.0L1876.4 473.5L1876.9 471.1L1877.5 468.7L1878.0 466.2L1878.5 463.8L1879.0 461.4L1879.6 458.9L1880.1 456.5L1880.6 454.1L1881.1 451.6L1881.6 449.2L1882.2 446.8L1882.7 444.3L1883.2 441.9L1883.7 439.5L1884.3 437.1L1884.8 434.6L1885.3 432.2L1885.8 429.8L1886.3 427.3L1886.9 424.9L1887.4 422.5L1887.9 420.0L1888.4 417.6L1889.0 415.2L1889.5 412.7L1890.0 410.3L1890.5 407.9L1891.1 405.5L1891.6 403.0L1892.1 400.6L1892.6 398.2L1893.2 395.7L1893.7 393.3L1894.2 390.9L1894.8 388.4L1895.3 386.0L1895.8 383.6L1896.3 381.1L1896.9 378.7L1897.4 376.3L1897.9 373.9L1898.5 371.4L1899.0 369.0L1899.5 366.6L1900.1 364.1L1900.6 361.7L1901.1 359.3L1901.7 356.8L1902.2 354.4L1902.7 352.0L1903.3 349.5L1903.8 347.1L1904.4 344.7L1904.9 342.2L1905.4 339.8L1906.0 337.4L1906.5 334.9L1907.1 332.5L1907.6 330.1L1908.2 327.6L1908.7 325.2L1909.3 322.8L1909.8 320.3L1910.3 317.9L1910.9 315.5L1911.5 313.0L1912.0 310.6L1912.6 308.2L1913.1 305.7L1913.7 303.3L1914.2 300.8L1914.8 298.4L1915.3 296.0L1915.9 293.5L1916.5 291.1L1917.0 288.7L1917.6 286.2L1918.1 283.8L1918.7 281.3L1919.3 278.9L1919.8 276.5L1920.4 274.0L1921.0 271.6L1921.6 269.1L1922.1 266.7L1922.7 264.3L1923.3 261.8L1923.9 259.4L1924.4 256.9L1925.0 254.5L1925.6 252.1L1926.2 249.6L1926.8 247.2L1927.4 244.7L1927.9 242.3L1928.5 239.8L1929.1 237.4L1929.7 234.9L1930.3 232.5L1930.9 230.0L1931.5 227.6L1932.1 225.2L1932.7 222.7L1933.3 220.3L1933.9 217.8L1934.5 215.4L1935.1 212.9L1935.7 210.5L1936.3 208.0L1937.0 205.6L1937.6 203.1L1938.2 200.7L1938.8 198.2L1939.4 195.8L1940.0 193.3L1940.7 190.8L1941.3 188.4L1941.9 185.9L1942.6 183.5L1943.2 181.0L1943.8 178.6L1944.5 176.2L1945.2 173.8L1946.0 171.4L1946.9 169.1L1947.8 166.9L1948.8 164.7L1950.0 162.6L1951.3 160.7L1952.7 158.8L1954.3 157.0L1956.0 155.4L1957.9 153.9L1959.9 152.7L1962.0 151.7L1964.1 150.9L1966.3 150.4L1968.5 150.2L1970.8 150.4L1973.0 150.9L1975.2 151.6L1977.3 152.7L1979.4 153.9L1981.4 155.4L1983.3 157.1L1985.1 158.9L1986.8 160.9L1988.3 162.9L1989.8 165.1L1991.1 167.3L1992.3 169.6L1993.5 171.9L1994.5 174.2L1995.5 176.6L1996.3 178.9L1997.1 181.3L1997.9 183.8L1998.6 186.2L1999.2 188.7L1999.8 191.2L2000.3 193.7L2000.8 196.2L2001.3 198.7L2001.8 201.1L2002.2 203.6L2002.6 206.1L2003.1 208.6L2003.5 211.0L2003.9 213.5L2004.4 215.9L2004.8 218.3L2005.3 220.7L2005.7 223.1L2006.2 225.5L2006.6 227.9L2007.0 230.3L2007.5 232.7L2007.9 235.1L2008.3 237.5L2008.7 239.9L2009.1 242.3L2009.5 244.7L2009.8 247.1L2010.2 249.6L2010.5 252.1L2010.8 254.6L2011.0 257.1L2011.3 259.6L2011.5 262.2L2011.7 264.7L2011.9 267.4L2012.0 270.0" stroke="#1C9BDA"/>
<path d="M2006 1098V1110" stroke="#1C9BDA"/>
<path d="M2007.5 1176V1190" stroke="#FE7E25"/>
</g>
<path d="M480.1 647.9H571.8" stroke="#FE7E25" stroke-width="14.5" stroke-linecap="round"/>
<path d="M480.1 769.9H571.8" stroke="#1C9BDA" stroke-width="14.5" stroke-linecap="round"/>
<g fill="#000"><text transform="translate(113.1 85.2) scale(0.97137 1)" font-size="79.577" stroke="#000" stroke-width="0.4">120</text><text transform="translate(112.37 270.51) scale(0.98050 1)" font-size="79.296" stroke="#000" stroke-width="0.4">100</text><text transform="translate(153.98 458.21) scale(1.01198 1)" font-size="79.437" stroke="#000" stroke-width="0.4">80</text><text transform="translate(154.5 645.91) scale(1.00586 1)" font-size="79.437" stroke="#000" stroke-width="0.4">60</text><text transform="translate(154.71 834.39) scale(0.98773 1)" font-size="80.704" stroke="#000" stroke-width="0.4">40</text><text transform="translate(155.45 1020.29) scale(0.97919 1)" font-size="80.704" stroke="#000" stroke-width="0.4">20</text><text transform="translate(199.26 1207.82) scale(1.00457 1)" font-size="78.169" stroke="#000" stroke-width="0.4">0</text><text transform="translate(2077.67 158.63) scale(0.97196 1)" font-size="81.408" stroke="#000" stroke-width="0.4">1.30</text><text transform="translate(2077.67 308.71) scale(0.97196 1)" font-size="81.408" stroke="#000" stroke-width="0.4">1.10</text><text transform="translate(2076.32 458.79) scale(0.97545 1)" font-size="81.408" stroke="#000" stroke-width="0.4">0.90</text><text transform="translate(2076.32 608.87) scale(0.97545 1)" font-size="81.408" stroke="#000" stroke-width="0.4">0.70</text><text transform="translate(2076.32 758.95) scale(0.97545 1)" font-size="81.408" stroke="#000" stroke-width="0.4">0.50</text><text transform="translate(2076.32 909.03) scale(0.97545 1)" font-size="81.408" stroke="#000" stroke-width="0.4">0.30</text><text transform="translate(2075.31 1059.11) scale(0.98072 1)" font-size="81.408" stroke="#000" stroke-width="0.4">0.10</text><text transform="translate(2074.9 1209.19) scale(0.98326 1)" font-size="81.408" stroke="#000" stroke-width="0.4">-0.10</text><text transform="translate(299.72 1322.99) scale(1.01914 1)" font-size="80.563" stroke="#000" stroke-width="0.4">0</text><text transform="translate(480.17 1322.99) scale(0.98103 1)" font-size="80.563" stroke="#000" stroke-width="0.4">100</text><text transform="translate(703.14 1322.99) scale(0.98358 1)" font-size="80.563" stroke="#000" stroke-width="0.4">200</text><text transform="translate(927.55 1322.99) scale(0.97817 1)" font-size="80.563" stroke="#000" stroke-width="0.4">300</text><text transform="translate(1149 1322.99) scale(0.99223 1)" font-size="80.563" stroke="#000" stroke-width="0.4">400</text><text transform="translate(1374.05 1322.99) scale(0.97661 1)" font-size="80.563" stroke="#000" stroke-width="0.4">500</text><text transform="translate(1596.02 1322.99) scale(0.98829 1)" font-size="80.563" stroke="#000" stroke-width="0.4">600</text><text transform="translate(1819.33 1322.99) scale(0.98437 1)" font-size="80.563" stroke="#000" stroke-width="0.4">700</text><text y="1436.9" font-size="81.5" stroke="#000" stroke-width="0.6"><tspan x="933.89" textLength="452.14" lengthAdjust="spacingAndGlyphs">Temperature</tspan> <tspan x="1408.09" textLength="122.53" lengthAdjust="spacingAndGlyphs">(°C)</tspan></text><text y="673.4" font-size="80" stroke="#000" stroke-width="0.6"><tspan x="581.72" textLength="59.26" lengthAdjust="spacingAndGlyphs">%</tspan> <tspan x="665.2" textLength="112.79" lengthAdjust="spacingAndGlyphs">wt.</tspan> <tspan x="796.28" textLength="131.75" lengthAdjust="spacingAndGlyphs">loss</tspan></text><text y="795.3" font-size="80" stroke="#000" stroke-width="0.6"><tspan x="581.72" textLength="59.26" lengthAdjust="spacingAndGlyphs">%</tspan> <tspan x="665.4" textLength="111.93" lengthAdjust="spacingAndGlyphs">wt.</tspan> <tspan x="796.27" textLength="132.07" lengthAdjust="spacingAndGlyphs">loss</tspan> <tspan x="947.87" textLength="345.65" lengthAdjust="spacingAndGlyphs">derivative</tspan></text><text transform="translate(74.5 0) rotate(-90)" y="0" font-size="80" stroke="#000" stroke-width="0.6"><tspan x="-839.93" textLength="61.70" lengthAdjust="spacingAndGlyphs">%</tspan> <tspan x="-754.9" textLength="114.30" lengthAdjust="spacingAndGlyphs">wt.</tspan> <tspan x="-620.57" textLength="133.14" lengthAdjust="spacingAndGlyphs">loss</tspan></text><text transform="translate(2345.3 0) rotate(-90)" y="0" font-size="80" stroke="#000" stroke-width="0.6"><tspan x="-1009.92" textLength="61.59" lengthAdjust="spacingAndGlyphs">%</tspan> <tspan x="-924.9" textLength="112.90" lengthAdjust="spacingAndGlyphs">wt.</tspan> <tspan x="-789.49" textLength="133.77" lengthAdjust="spacingAndGlyphs">loss</tspan> <tspan x="-634.38" textLength="350.44" lengthAdjust="spacingAndGlyphs">derivative</tspan></text></g>
</svg>
</body></html>
